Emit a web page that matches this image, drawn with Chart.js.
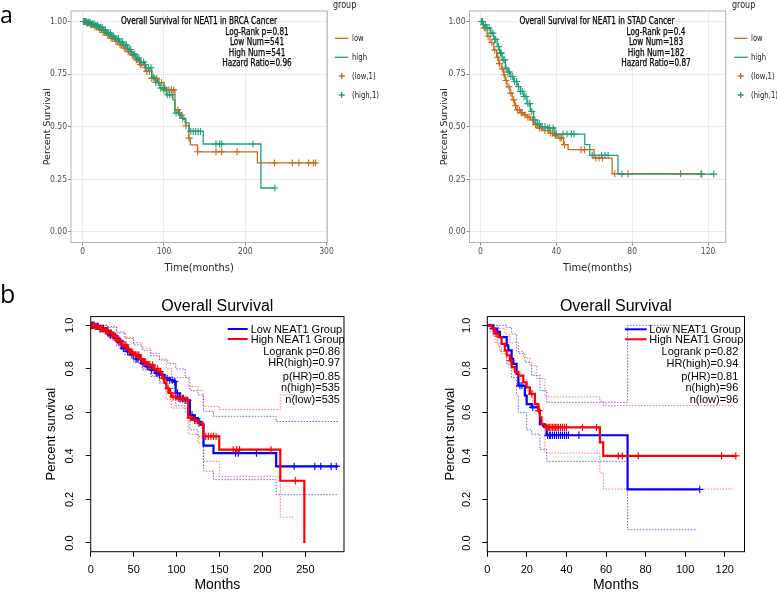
<!DOCTYPE html>
<html>
<head>
<meta charset="utf-8">
<script src="https://cdn.jsdelivr.net/npm/chart.js@4.4.1/dist/chart.umd.min.js"></script>
<style>
  html, body { margin: 0; padding: 0; background: #fff; }
  #fig { position: relative; width: 777px; height: 594px; overflow: hidden; background: #fff; }
  .box { position: absolute; }
  .t { position: absolute; white-space: nowrap; line-height: 1; }
  .c { transform: translate(-50%, -50%); }
  .l { transform: translate(0, -50%); }
  .r { transform: translate(-100%, -50%); }
  .gg { font-family: 'DejaVu Sans Condensed', 'DejaVu Sans', sans-serif; color: #000; font-size: 9.6px; -webkit-text-stroke: 0.25px #000; }
  .gg.c { transform: translate(-50%, -50%) scaleX(0.85); }
  .lg { font-family: 'DejaVu Sans Condensed', 'DejaVu Sans', sans-serif; color: #222; font-size: 9px; }
  .lg.l { transform: translate(0, -50%) scaleX(0.85); transform-origin: 0 50%; }
  .rr { font-family: 'Liberation Sans', Arial, sans-serif; color: #000; font-size: 11px; }
  .let { font-family: 'Open Sans', sans-serif; color: #000; position: absolute; }
  svg { position: absolute; left: 0; top: 0; }
</style>
</head>
<body>
<div id="fig">
  <div class="box" style="left:0;top:0;width:390px;height:280px"><canvas id="aBrca"></canvas></div>
  <div class="box" style="left:390px;top:0;width:387px;height:280px"><canvas id="aStad"></canvas></div>
  <div class="box" style="left:0;top:280px;width:390px;height:314px"><canvas id="bBrca"></canvas></div>
  <div class="box" style="left:390px;top:280px;width:387px;height:314px"><canvas id="bStad"></canvas></div>

  <!-- panel letters -->
  <div class="let" style="left:0;top:3px;font-size:23px;line-height:23px">a</div>
  <div class="let" style="left:0;top:281px;font-size:25px;line-height:25px">b</div>

  <!-- a: text inside plots -->
  <div class="t c gg" style="left:199px;top:20.7px">Overall Survival for NEAT1 in BRCA Cancer</div>
  <div class="t c gg" style="left:257px;top:32px">Log-Rank p=0.81</div>
  <div class="t c gg" style="left:257px;top:42.3px">Low Num=541</div>
  <div class="t c gg" style="left:257px;top:52.7px">High Num=541</div>
  <div class="t c gg" style="left:257px;top:62.7px">Hazard Ratio=0.96</div>

  <div class="t c gg" style="left:597px;top:20.7px">Overall Survival for NEAT1 in STAD Cancer</div>
  <div class="t c gg" style="left:655.5px;top:32px">Log-Rank p=0.4</div>
  <div class="t c gg" style="left:655.5px;top:42.3px">Low Num=183</div>
  <div class="t c gg" style="left:655.5px;top:52.7px">High Num=182</div>
  <div class="t c gg" style="left:655.5px;top:62.7px">Hazard Ratio=0.87</div>

  <!-- a: legends -->
  <div class="t l lg" style="left:333px;top:4px;font-size:10.5px">group</div>
  <div class="t l lg" style="left:351.7px;top:38.3px">low</div>
  <div class="t l lg" style="left:351.7px;top:57.3px">high</div>
  <div class="t l lg" style="left:351.7px;top:76px">(low,1)</div>
  <div class="t l lg" style="left:351.7px;top:95px">(high,1)</div>

  <div class="t l lg" style="left:731.7px;top:4px;font-size:10.5px">group</div>
  <div class="t l lg" style="left:750.7px;top:38.3px">low</div>
  <div class="t l lg" style="left:750.7px;top:57.3px">high</div>
  <div class="t l lg" style="left:750.7px;top:76px">(low,1)</div>
  <div class="t l lg" style="left:750.7px;top:95px">(high,1)</div>

  <!-- b: legends -->
  <div class="t l rr" style="left:250.7px;top:329px">Low NEAT1 Group</div>
  <div class="t l rr" style="left:250.7px;top:339px">High NEAT1 Group</div>
  <div class="t r rr" style="left:340px;top:350.7px">Logrank p=0.86</div>
  <div class="t r rr" style="left:340px;top:362.3px">HR(high)=0.97</div>
  <div class="t r rr" style="left:340px;top:375.7px">p(HR)=0.85</div>
  <div class="t r rr" style="left:340px;top:387.3px">n(high)=535</div>
  <div class="t r rr" style="left:340px;top:399px">n(low)=535</div>

  <div class="t l rr" style="left:649.3px;top:329.3px">Low NEAT1 Group</div>
  <div class="t l rr" style="left:649.3px;top:339.3px">High NEAT1 Group</div>
  <div class="t r rr" style="left:738.3px;top:351px">Logrank p=0.82</div>
  <div class="t r rr" style="left:738.3px;top:362.7px">HR(high)=0.94</div>
  <div class="t r rr" style="left:738.3px;top:376px">p(HR)=0.81</div>
  <div class="t r rr" style="left:738.3px;top:387.3px">n(high)=96</div>
  <div class="t r rr" style="left:738.3px;top:399.3px">n(low)=96</div>

  <!-- legend keys -->
  <svg width="777" height="594">
    <g stroke-width="1.3" fill="none">
      <line x1="335" y1="38.3" x2="348.3" y2="38.3" stroke="#cc6a1d"/>
      <line x1="335" y1="57.3" x2="348.3" y2="57.3" stroke="#1f9e80"/>
      <path d="M338.7 76h6M341.7 73v6" stroke="#cc6a1d"/>
      <path d="M338.7 95h6M341.7 92v6" stroke="#1f9e80"/>
      <line x1="734.3" y1="38.3" x2="747.7" y2="38.3" stroke="#cc6a1d"/>
      <line x1="734.3" y1="57.3" x2="747.7" y2="57.3" stroke="#1f9e80"/>
      <path d="M737.7 76h6M740.7 73v6" stroke="#cc6a1d"/>
      <path d="M737.7 95h6M740.7 92v6" stroke="#1f9e80"/>
    </g>
    <g stroke-width="2" fill="none">
      <line x1="227.7" y1="329" x2="247.7" y2="329" stroke="#0000ff"/>
      <line x1="227.7" y1="339" x2="247.7" y2="339" stroke="#ff0000"/>
      <line x1="625" y1="329.3" x2="646.7" y2="329.3" stroke="#0000ff"/>
      <line x1="625" y1="339.3" x2="646.7" y2="339.3" stroke="#ff0000"/>
    </g>
  </svg>
</div>

<script>
// ---------- panel a, left: TCGA BRCA (months -> survival) ----------
const brcaLowT = [0, 5, 10, 15, 20, 25, 30, 35, 40, 45, 50, 55, 60, 65, 70, 77, 85, 92, 100, 113.5, 118, 123, 127, 130.5, 132.5, 141.3, 215, 286.6];
const brcaLowS = [1, 0.993, 0.985, 0.974, 0.962, 0.948, 0.935, 0.92, 0.905, 0.89, 0.874, 0.857, 0.84, 0.818, 0.795, 0.763, 0.73, 0.71, 0.675, 0.58, 0.555, 0.535, 0.505, 0.446, 0.414, 0.381, 0.328, 0.328];
const brcaLowCens = [1, 2, 3, 5, 6, 8, 10, 11, 13, 15, 17, 19, 21, 23, 25, 27, 29, 31, 33, 35, 37, 39, 41, 43, 46, 48, 51, 53, 56, 58, 61, 63, 66, 68, 71, 73, 76, 79, 82, 85, 88, 91, 94, 97, 100, 103, 106, 109, 112, 117, 122, 127, 131, 141.5, 164, 171, 190, 236, 258, 266, 278, 284, 286.6];
const brcaHighT = [0, 5, 10, 15, 20, 25, 30, 35, 40, 45, 50, 55, 60, 65, 70, 77, 85, 90, 95, 103, 111, 113.5, 120, 126, 131, 148.3, 219.3, 236.5];
const brcaHighS = [1, 0.996, 0.99, 0.982, 0.972, 0.96, 0.945, 0.93, 0.918, 0.903, 0.888, 0.867, 0.845, 0.827, 0.808, 0.78, 0.735, 0.71, 0.684, 0.652, 0.628, 0.565, 0.541, 0.518, 0.478, 0.418, 0.209, 0.209];
const brcaHighCens = [1, 2, 4, 5, 7, 9, 10, 12, 14, 16, 18, 20, 22, 24, 26, 28, 30, 32, 34, 36, 38, 40, 42, 44, 47, 49, 52, 54, 57, 59, 62, 64, 67, 69, 72, 75, 78, 81, 84, 87, 90, 93, 96, 99, 101, 104, 107, 110, 115, 119, 123, 133, 136, 139, 142, 145, 164, 168.6, 171, 209.4, 236.5];

// ---------- panel a, right: TCGA STAD ----------
const stadLowT = [0, 1.5, 3.5, 5, 7, 8.5, 9.6, 11, 12.2, 13, 14, 15.5, 16.7, 18, 19.3, 21, 22.8, 24.5, 26.3, 28, 29.8, 33, 36.8, 38.5, 41, 43.8, 46.2, 59.9, 69.4, 117.2];
const stadLowS = [1, 0.97, 0.93, 0.9, 0.865, 0.83, 0.8, 0.775, 0.747, 0.72, 0.69, 0.66, 0.628, 0.6, 0.58, 0.567, 0.556, 0.545, 0.533, 0.51, 0.494, 0.482, 0.47, 0.458, 0.446, 0.415, 0.391, 0.351, 0.277, 0.277];
const stadLowCens = [0.5, 1, 2, 2.5, 4, 6, 7.5, 9, 10, 11.5, 12.5, 13.5, 15, 16, 17.5, 18.5, 19.5, 20.5, 21.5, 22, 23.5, 25, 26, 27.5, 29, 31, 32, 34, 35.7, 37, 38, 39.5, 41.9, 42.6, 44.3, 53, 54.8, 60.8, 62.5, 64.3, 70.8, 77.8, 105.5, 116.6];
const stadHighT = [0, 1.5, 3, 5.3, 7, 8.8, 10, 11.4, 13.1, 14.5, 15.8, 17.5, 19.3, 21, 22.8, 24.5, 26.3, 28, 30, 31.5, 35, 39.2, 55, 57.6, 72.5, 123];
const stadHighS = [1, 0.985, 0.97, 0.945, 0.915, 0.881, 0.85, 0.818, 0.779, 0.76, 0.739, 0.715, 0.691, 0.668, 0.644, 0.61, 0.573, 0.533, 0.515, 0.501, 0.494, 0.465, 0.415, 0.364, 0.275, 0.275];
const stadHighCens = [0.5, 1, 1.5, 2.5, 3.5, 4.5, 5.5, 6.5, 7.5, 8, 9.5, 10.5, 11, 12, 12.8, 13.5, 14.5, 15.2, 16, 17, 18, 19, 20, 21, 22, 23, 24, 25, 26, 27, 28.7, 30, 31, 32.5, 34, 35.5, 36.5, 38.4, 40, 43.5, 45.6, 47.9, 49.3, 58.9, 63.8, 65.6, 67.3, 74.6, 116.3, 123];

// ---------- panel b, left: GEPIA BRCA ----------
const gBrcaLowT = [0, 5, 10, 16, 22, 28, 32, 36, 42, 47, 53, 59, 65, 71, 76, 80, 86, 92, 96, 99, 104, 110, 115.5, 120, 125, 128, 131.4, 143, 216, 288];
const gBrcaLowS = [1, 0.995, 0.985, 0.975, 0.955, 0.94, 0.925, 0.894, 0.88, 0.864, 0.845, 0.825, 0.81, 0.795, 0.78, 0.772, 0.756, 0.748, 0.741, 0.688, 0.662, 0.655, 0.588, 0.573, 0.557, 0.544, 0.447, 0.413, 0.352, 0.352];
const gBrcaLowCens = [2, 4, 6, 8, 11, 13, 15, 18, 20, 23, 25, 27, 30, 33, 35, 38, 40, 43, 45, 48, 50, 53, 55, 58, 61, 63, 66, 68, 71, 74, 77, 80, 83, 86, 89, 92, 95, 98, 101, 104, 107, 110, 113, 118, 122, 127, 168.7, 171.8, 193, 237, 261, 268, 280, 286];
const gBrcaLowCiT = [0, 10, 20, 30, 40, 50, 60, 70, 80, 90, 99, 110, 115.5, 125, 131.4, 143, 216, 288];
const gBrcaLowUp = [1, 1, 0.995, 0.965, 0.94, 0.91, 0.885, 0.86, 0.84, 0.825, 0.8, 0.76, 0.7, 0.68, 0.605, 0.582, 0.558, 0.558];
const gBrcaLowLo = [1, 0.97, 0.945, 0.905, 0.865, 0.83, 0.795, 0.765, 0.735, 0.71, 0.63, 0.6, 0.52, 0.49, 0.33, 0.291, 0.222, 0.222];
const gBrcaHighT = [0, 5, 10, 16, 20, 26, 31, 36, 42, 46, 51, 57, 62, 67, 73, 78.5, 82, 84, 86, 88, 91, 94, 100, 110, 113.5, 118, 125, 131, 149.7, 220.8, 248.8];
const gBrcaHighS = [1, 0.995, 0.985, 0.975, 0.965, 0.95, 0.93, 0.91, 0.89, 0.875, 0.864, 0.845, 0.83, 0.818, 0.8, 0.787, 0.775, 0.756, 0.735, 0.71, 0.69, 0.672, 0.665, 0.657, 0.576, 0.565, 0.55, 0.49, 0.429, 0.286, 0];
const gBrcaHighCens = [1, 3, 5, 7, 9, 12, 14, 17, 19, 21, 24, 26, 29, 31, 34, 37, 39, 41, 44, 47, 49, 52, 54, 56, 59, 62, 64, 67, 69, 72, 75, 78, 81, 85, 90, 93, 96, 99, 102, 105, 108, 111, 116, 121, 126, 134, 137, 140, 143, 146, 166, 170, 173.4, 210, 238.3];
const gBrcaHighCiT = [0, 10, 20, 30, 40, 50, 60, 70, 80, 88, 94, 113.5, 125, 131, 149.7, 220.8, 238];
const gBrcaHighUp = [1, 1, 0.99, 0.97, 0.945, 0.92, 0.895, 0.87, 0.845, 0.8, 0.76, 0.72, 0.7, 0.628, 0.613, 0.681, 0.681];
const gBrcaHighLo = [1, 0.97, 0.945, 0.915, 0.88, 0.84, 0.8, 0.77, 0.74, 0.66, 0.62, 0.5, 0.46, 0.375, 0.306, 0.119, 0.119];

// ---------- panel b, right: GEPIA STAD ----------
const gStadLowT = [0, 3, 5, 6.4, 9.8, 10.6, 12.3, 13.1, 14.8, 15.7, 19, 19.9, 22.4, 25.8, 26.6, 28.3, 30, 70.9, 107.4];
const gStadLowS = [1, 0.985, 0.97, 0.946, 0.908, 0.885, 0.846, 0.823, 0.777, 0.723, 0.677, 0.638, 0.623, 0.608, 0.546, 0.538, 0.495, 0.246, 0.246];
const gStadLowCens = [3, 16.5, 17.5, 23, 30.5, 31.5, 32, 33, 34, 35, 36, 37, 38, 39, 40, 41, 46.3, 107.4];
const gStadLowUpT = [0, 8, 9.8, 12.3, 14.8, 15.7, 19, 22.4, 26.6, 30, 70.9, 107.4];
const gStadLowUp = [1, 1, 0.99, 0.96, 0.92, 0.87, 0.83, 0.77, 0.7, 0.646, 1, 1];
const gStadLowLoT = [0, 3, 5, 6.4, 9.8, 12.3, 14.8, 15.7, 19.9, 22.4, 26.6, 30, 70.9, 106];
const gStadLowLo = [1, 0.95, 0.92, 0.88, 0.82, 0.76, 0.68, 0.6, 0.52, 0.5, 0.43, 0.375, 0.061, 0.061];
const gStadHighT = [0, 2.2, 3.9, 5.6, 7.2, 8.9, 9.8, 11.4, 12.3, 14, 15.7, 18.2, 19.9, 21.5, 24.1, 25.8, 26.6, 27.4, 29.1, 56.9, 58.6, 126];
const gStadHighS = [1, 0.985, 0.962, 0.946, 0.915, 0.885, 0.862, 0.838, 0.808, 0.785, 0.769, 0.738, 0.715, 0.685, 0.638, 0.608, 0.577, 0.546, 0.531, 0.462, 0.4, 0.4];
const gStadHighCens = [4.5, 12, 22.5, 26, 30, 30.8, 31.5, 32.2, 33, 33.8, 34.5, 35.3, 36, 37, 38, 39, 40, 48.1, 55.2, 66.2, 68.2, 76.3, 118.4, 125.6];
const gStadHighUpT = [0, 3.9, 5.6, 8.9, 11.4, 14.8, 18.2, 21.5, 25, 29.1, 56.9, 58.6, 124];
const gStadHighUp = [1, 1, 0.985, 0.96, 0.92, 0.88, 0.85, 0.815, 0.755, 0.671, 0.651, 0.631, 0.631];
const gStadHighLoT = [0, 1.3, 3.9, 5.6, 7.2, 9.8, 13, 17, 20, 23, 26.6, 29.1, 56.9, 58.6, 124];
const gStadHighLo = [1, 0.97, 0.92, 0.9, 0.87, 0.83, 0.79, 0.75, 0.7, 0.63, 0.55, 0.413, 0.322, 0.248, 0.248];

// ---------- ticks ----------
const aBrcaXTicks = [0, 100, 200, 300];
const aStadXTicks = [0, 40, 80, 120];
const aYTicks = [0, 0.25, 0.5, 0.75, 1];
const bBrcaXTicks = [0, 50, 100, 150, 200, 250];
const bStadXTicks = [0, 20, 40, 60, 80, 100, 120];
const bYTicks = [0, 0.2, 0.4, 0.6, 0.8, 1];
const bYLabels = ['0.0', '0.2', '0.4', '0.6', '0.8', '1.0'];

const ORANGE = '#cc6a1d', GREEN = '#1f9e80';
const BLUE = '#0000ff', RED = '#ff0000';
const COND = "'DejaVu Sans Condensed','DejaVu Sans',sans-serif";
const ARIAL = "'Liberation Sans',Arial,sans-serif";

// step function points: survival drops to s[i] at time t[i]
const steps = (t, s) => t.map((x, i) => ({ x: x, y: s[i] }));
// survival value of the step curve at a given time (for censor marks)
function survAt(t, s, time) {
  let v = s[0];
  for (let i = 0; i < t.length; i++) if (t[i] <= time) v = s[i];
  return v;
}
const marks = (t, s, c) => c.map(x => ({ x: x, y: survAt(t, s, x) }));

function lineSet(t, s, color, width, order, dash) {
  return { data: steps(t, s), stepped: 'before', borderColor: color, borderWidth: width,
    borderDash: dash || [], pointRadius: 0, pointHitRadius: 0, fill: false, order: order };
}
function markSet(t, s, c, color, r, order) {
  return { data: marks(t, s, c), showLine: false, pointStyle: 'cross', pointRadius: r,
    pointHoverRadius: r, borderColor: color, pointBorderWidth: 1.1, order: order };
}

//draws the box round the plotting area
function frame(color) {
  return {
    id: 'frame',
    afterDatasetsDraw(chart) {
      const { ctx, chartArea: a } = chart;
      ctx.save();
      ctx.strokeStyle = color;
      ctx.lineWidth = 1;
      ctx.strokeRect(a.left, a.top, a.right - a.left, a.bottom - a.top);
      ctx.restore();
    }
  };
}
//R style y labels, turned to read upwards
function rotatedY(x) {
  return {
    id: 'rotY',
    afterDraw(chart) {
      const { ctx } = chart, y = chart.scales.y;
      ctx.save();
      ctx.font = '11px ' + ARIAL;
      ctx.fillStyle = '#000';
      ctx.textAlign = 'center';
      ctx.textBaseline = 'middle';
      y.ticks.forEach((tk, i) => {
        ctx.save();
        ctx.translate(x, y.getPixelForValue(tk.value));
        ctx.rotate(-Math.PI / 2);
        ctx.fillText(bYLabels[i], 0, 0);
        ctx.restore();
      });
      ctx.restore();
    }
  };
}

function ggChart(id, o) {
  return new Chart(document.getElementById(id), {
    type: 'line',
    data: {
      datasets: [
        lineSet(o.lowT, o.lowS, ORANGE, 1.3, 3),
        markSet(o.lowT, o.lowS, o.lowC, ORANGE, 3.5, 2),
        lineSet(o.highT, o.highS, GREEN, 1.3, 1),
        markSet(o.highT, o.highS, o.highC, GREEN, 3.5, 0),
      ]
    },
    options: {
      responsive: true,
      maintainAspectRatio: false,
      animation: false,
      layout: { padding: { left: 0, top: 11, right: o.right, bottom: 0 } },
      plugins: { legend: { display: false }, tooltip: { enabled: false } },
      scales: {
        x: {
          type: 'linear', min: o.xMin, max: o.xMax,
          afterBuildTicks: s => { s.ticks = o.xTicks.map(v => ({ value: v })); },
          afterFit: s => { s.height = 37.5; },
          ticks: { font: { family: COND, size: 8.5 }, color: '#4d4d4d', padding: 1.6, maxRotation: 0, autoSkip: false },
          grid: { color: '#ebebeb', tickColor: '#8c8c8c', tickLength: 3 },
          border: { display: false },
          title: { display: true, text: 'Time(months)', color: '#222', font: { family: COND, size: 11 }, padding: { top: 0, bottom: 5 } }
        },
        y: {
          type: 'linear', min: -0.05, max: 1.05,
          afterBuildTicks: s => { s.ticks = aYTicks.map(v => ({ value: v })); },
          afterFit: s => { s.width = o.yW; },
          ticks: { font: { family: COND, size: 8.5 }, color: '#4d4d4d', padding: 1, callback: v => v.toFixed(2) },
          grid: { color: '#ebebeb', tickColor: '#8c8c8c', tickLength: 3 },
          border: { display: false },
          title: { display: true, text: 'Percent Survival', color: '#222', font: { family: "'DejaVu Sans',sans-serif", size: 9.5 }, padding: { top: o.yTitleX - 5.7, bottom: 0 } }
        }
      }
    },
    plugins: [frame('#b3b3b3')]
  });
}

function rChart(id, o) {
  return new Chart(document.getElementById(id), {
    type: 'line',
    data: {
      datasets: [
        lineSet(o.lowUpT, o.lowUp, 'rgba(0,0,255,0.6)', 1, 8, [1.5, 1.5]),
        lineSet(o.lowLoT, o.lowLo, 'rgba(0,0,255,0.6)', 1, 8, [1.5, 1.5]),
        lineSet(o.highUpT, o.highUp, 'rgba(255,0,0,0.55)', 1, 7, [1.5, 1.5]),
        lineSet(o.highLoT, o.highLo, 'rgba(255,0,0,0.55)', 1, 7, [1.5, 1.5]),
        lineSet(o.lowT, o.lowS, BLUE, 2.2, 3),
        markSet(o.lowT, o.lowS, o.lowC, BLUE, 3.7, 2),
        lineSet(o.highT, o.highS, RED, 2.2, 1),
        markSet(o.highT, o.highS, o.highC, RED, 3.7, 0),
      ]
    },
    options: {
      responsive: true,
      maintainAspectRatio: false,
      animation: false,
      layout: { padding: { left: 0, top: 0, right: o.right, bottom: 0 } },
      plugins: {
        legend: { display: false },
        tooltip: { enabled: false },
        title: { display: true, text: 'Overall Survival', fullSize: false, color: '#000',
          font: { family: ARIAL, size: 16, weight: 'normal' }, padding: { top: 17.1, bottom: 0.3 } }
      },
      scales: {
        x: {
          type: 'linear', min: 0, max: o.xMax,
          afterBuildTicks: s => { s.ticks = o.xTicks.map(v => ({ value: v })); },
          afterFit: s => { s.height = 42.3; },
          ticks: { font: { family: ARIAL, size: 11 }, color: '#000', padding: 6.5, maxRotation: 0, autoSkip: false },
          grid: { drawOnChartArea: false, tickColor: '#000', tickLength: 5 },
          border: { display: false },
          title: { display: true, text: 'Months', color: '#000', font: { family: ARIAL, size: 14 }, padding: { top: 0, bottom: 0.6 } }
        },
        y: {
          type: 'linear', min: -0.04, max: 1.04,
          afterBuildTicks: s => { s.ticks = bYTicks.map(v => ({ value: v })); },
          afterFit: s => { s.width = o.yW; },
          ticks: { display: false },
          grid: { drawOnChartArea: false, tickColor: '#000', tickLength: 5 },
          border: { display: false },
          title: { display: true, text: 'Percent survival', color: '#000', font: { family: ARIAL, size: 13 }, padding: { top: o.yTitleX - 7.8, bottom: 0 } }
        }
      }
    },
    plugins: [frame('#000'), rotatedY(o.yLabX)]
  });
}

ggChart('aBrca', {
  lowT: brcaLowT, lowS: brcaLowS, lowC: brcaLowCens,
  highT: brcaHighT, highS: brcaHighS, highC: brcaHighCens,
  xMin: -14.4, xMax: 301, xTicks: aBrcaXTicks, right: 62.7, yW: 71, yTitleX: 48
});
ggChart('aStad', {
  lowT: stadLowT, lowS: stadLowS, lowC: stadLowCens,
  highT: stadHighT, highS: stadHighS, highC: stadHighCens,
  xMin: -5.8, xMax: 129.3, xTicks: aStadXTicks, right: 51.3, yW: 79.5, yTitleX: 55
});
rChart('bBrca', {
  lowT: gBrcaLowT, lowS: gBrcaLowS, lowC: gBrcaLowCens,
  lowUpT: gBrcaLowCiT, lowUp: gBrcaLowUp, lowLoT: gBrcaLowCiT, lowLo: gBrcaLowLo,
  highT: gBrcaHighT, highS: gBrcaHighS, highC: gBrcaHighCens,
  highUpT: gBrcaHighCiT, highUp: gBrcaHighUp, highLoT: gBrcaHighCiT, highLo: gBrcaHighLo,
  xMax: 295, xTicks: bBrcaXTicks, right: 46, yW: 90.7, yTitleX: 51.7, yLabX: 70
});
rChart('bStad', {
  lowT: gStadLowT, lowS: gStadLowS, lowC: gStadLowCens,
  lowUpT: gStadLowUpT, lowUp: gStadLowUp, lowLoT: gStadLowLoT, lowLo: gStadLowLo,
  highT: gStadHighT, highS: gStadHighS, highC: gStadHighCens,
  highUpT: gStadHighUpT, highUp: gStadHighUp, highLoT: gStadHighLoT, highLo: gStadHighLo,
  xMax: 130, xTicks: bStadXTicks, right: 32.5, yW: 97.3, yTitleX: 60, yLabX: 77.3
});
</script>
</body>
</html>
